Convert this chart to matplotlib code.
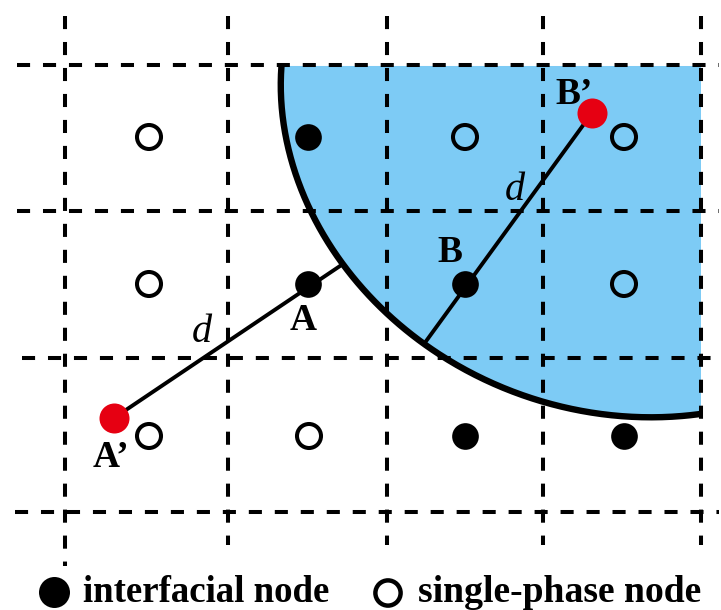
import matplotlib
matplotlib.use("Agg")
import matplotlib.pyplot as plt
import numpy as np

W, H = 721, 610
interfacial_x = [308, 308, 465, 465, 624]
interfacial_y = [137, 284, 284, 436, 436]
single_x = [149, 465, 624, 149, 624, 149, 309]
single_y = [137, 137, 137, 284, 284, 436, 436]
red_x = [592, 114]
red_y = [113, 418]
grid_v = [65, 228, 387, 543, 701]
grid_v_end = [566, 545, 545, 545, 545]
grid_h = [65, 211, 358, 512]
grid_h_start = [17, 17, 22, 15]
line_AB = ([114, 340], [418, 266])
line_BB = ([424, 592], [344, 113])
arc_x_pts = [281, 282, 287, 294, 299, 308, 327, 341, 387, 428, 443, 490, 543, 587, 633, 667, 702]
arc_y_pts = [66, 105, 138, 165, 188, 211, 238, 262, 312, 345, 358, 383, 402, 412, 416, 417, 414]
arc_center_x = 668
arc_center_y = 40
point_labels = [("A", 290, 330), ("B", 437, 262), ("A’", 93, 467), ("B’", 555, 104)]
d_labels = [(192, 342), (505, 200)]

plt.rcParams['font.family'] = ['Liberation Serif', 'DejaVu Serif']
fig = plt.figure(figsize=(W/100, H/100), dpi=100)
ax = fig.add_axes([0, 0, 1, 1])
ax.set_xlim(0, W); ax.set_ylim(H, 0); ax.axis('off')

# smooth the read arc outline: radius as a low-order curve of the angle
dx = np.array(arc_x_pts, float) - arc_center_x
dy = np.array(arc_y_pts, float) - arc_center_y
ang = np.arctan2(dy, dx)
ang = np.where(ang < 0, ang + 2*np.pi, ang)
rad = np.hypot(dx, dy)
coef = np.polyfit(ang, rad, 4)
t = np.linspace(ang.max(), ang.min(), 300)
r = np.polyval(coef, t)
arc_x = arc_center_x + r*np.cos(t)
arc_y = arc_center_y + r*np.sin(t)
order = np.argsort(arc_y[:60])
keep = (arc_y >= 64) & (arc_x <= 702)
arc_x, arc_y = arc_x[keep], arc_y[keep]
if arc_x[0] > arc_x[-1]:
    arc_x, arc_y = arc_x[::-1], arc_y[::-1]

ax.fill(np.r_[arc_x, 701, 701], np.r_[arc_y, arc_y[-1], 66], color='#7DCBF5', lw=0, zorder=1)

dash = (0, (3.25, 3.2))
for x, end in zip(grid_v, grid_v_end):
    ax.plot([x, x], [16, end], color='k', lw=2.9, ls=dash, zorder=2)
for y, start in zip(grid_h, grid_h_start):
    ax.plot([start, 719], [y, y], color='k', lw=2.9, ls=dash, zorder=2)

ax.plot(arc_x, arc_y, color='k', lw=4.6, zorder=3, solid_capstyle='butt')
ax.plot(*line_AB, color='k', lw=2.8, zorder=3)
ax.plot(*line_BB, color='k', lw=2.8, zorder=3)

ax.scatter(interfacial_x, interfacial_y, s=369, c='k', zorder=4, linewidths=0)
ax.scatter(single_x, single_y, s=299, facecolors='none', edgecolors='k', linewidths=2.9, zorder=4)
ax.scatter(red_x, red_y, s=467, c='#E60012', zorder=5, linewidths=0)

for s, x, y in point_labels:
    ax.text(x, y, s, fontsize=27, fontweight='bold', ha='left', va='baseline', zorder=6)
for x, y in d_labels:
    ax.text(x, y, 'd', fontsize=29, style='italic', ha='left', va='baseline', zorder=6)

ax.scatter([54], [592], s=498, c='k', linewidths=0, clip_on=False)
ax.scatter([388], [593], s=330, facecolors='none', edgecolors='k', linewidths=3.2, clip_on=False)
ax.text(83, 602, 'interfacial node', fontsize=26.6, fontweight='bold', ha='left', va='baseline')
ax.text(418, 602, 'single-phase node', fontsize=27.1, fontweight='bold', ha='left', va='baseline')
fig.savefig('out.png', dpi=100)
